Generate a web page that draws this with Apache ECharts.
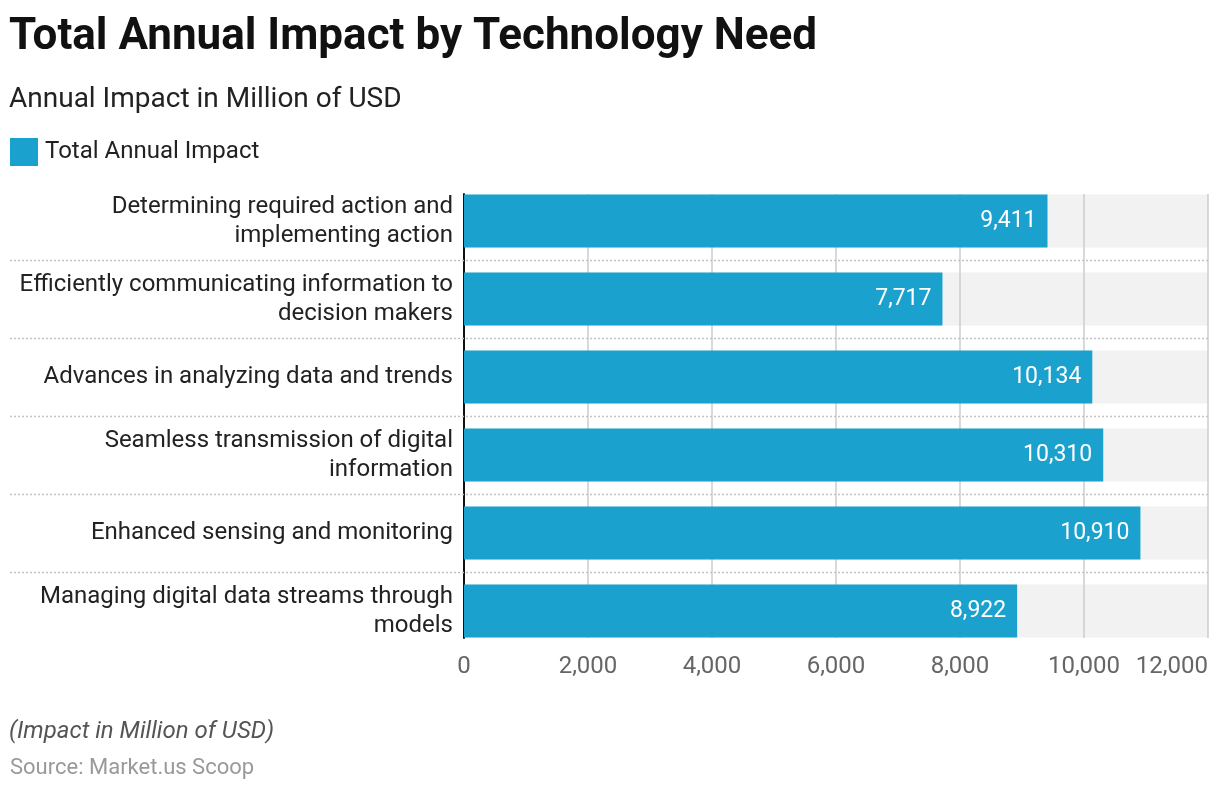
<!DOCTYPE html>
<html>
<head>
<meta charset="utf-8">
<script src="https://cdn.jsdelivr.net/npm/echarts@6/dist/echarts.min.js"></script>
<style>
html,body{margin:0;padding:0;background:#fff;}
#chart{width:1220px;height:792px;}
</style>
</head>
<body>
<div id="chart"></div>
<script>
const categories = [
  "Determining required action and\nimplementing action",
  "Efficiently communicating information to\ndecision makers",
  "Advances in analyzing data and trends",
  "Seamless transmission of digital\ninformation",
  "Enhanced sensing and monitoring",
  "Managing digital data streams through\nmodels"
];
const values = [9411, 7717, 10134, 10310, 10910, 8922];
const seriesName = "Total Annual Impact";
const xMin = 0, xMax = 12000, xInterval = 2000;

const FONT = "Roboto, 'Noto Sans', sans-serif";
const chart = echarts.init(document.getElementById('chart'), null, {renderer: 'canvas'});

const fmt = v => Number(v).toLocaleString('en-US');

chart.setOption({
  backgroundColor: '#ffffff',
  animation: false,
  textStyle: {fontFamily: FONT},
  title: [
    {text: 'Total Annual Impact by Technology Need', left: 9, top: 16, padding: 0,
     textStyle: {fontFamily: FONT, fontSize: 44, fontWeight: 'bold', color: '#111'}},
    {text: 'Annual Impact in Million of USD', left: 9, top: 86, padding: 0,
     textStyle: {fontFamily: FONT, fontSize: 28, fontWeight: 'normal', color: '#222'}},
    {text: '(Impact in Million of USD)', left: 9, top: 720, padding: 0,
     textStyle: {fontFamily: FONT, fontSize: 24, fontStyle: 'italic', fontWeight: 'normal', color: '#555'}},
    {text: 'Source: Market.us Scoop', left: 10, top: 757, padding: 0,
     textStyle: {fontFamily: FONT, fontSize: 22, fontWeight: 'normal', color: '#999'}}
  ],
  legend: {
    data: [seriesName], left: 10, top: 138, padding: 0, icon: 'rect',
    itemWidth: 28, itemHeight: 28, itemGap: 10,
    textStyle: {fontFamily: FONT, fontSize: 24, color: '#222', padding: [2, 0, 0, 2]}
  },
  grid: [
    {left: 464, right: 12, top: 182, bottom: 142, containLabel: false},
    {left: 464, right: 12, top: 194, bottom: 154, containLabel: false}
  ],
  xAxis: [
    {gridIndex: 0, type: 'value', min: xMin, max: xMax, interval: xInterval, show: false},
    {gridIndex: 1, type: 'value', min: xMin, max: xMax, interval: xInterval,
     axisLine: {show: false}, axisTick: {show: false},
     splitLine: {show: true, lineStyle: {color: '#cccccc', width: 1.5}},
     axisLabel: {fontFamily: FONT, fontSize: 24, color: '#666', margin: 17,
                 formatter: v => fmt(v), alignMaxLabel: 'right'}}
  ],
  yAxis: [
    {gridIndex: 0, type: 'category', data: categories, inverse: true,
     axisLine: {show: false}, axisTick: {show: false}, splitLine: {show: false},
     axisLabel: {fontFamily: FONT, fontSize: 24, color: '#222', margin: 11,
                 align: 'right', lineHeight: 29, padding: [4, 0, 0, 0]}},
    {gridIndex: 1, type: 'value', min: 0, max: 1,
     axisLine: {show: true, lineStyle: {color: '#111', width: 2}},
     axisTick: {show: false}, axisLabel: {show: false}, splitLine: {show: false}}
  ],
  series: [
    {
      name: 'bg', type: 'bar', xAxisIndex: 0, yAxisIndex: 0,
      data: categories.map(() => xMax), barWidth: 53, barGap: '-100%',
      itemStyle: {color: '#f2f2f2'}, z: -1, silent: true, legendHoverLink: false
    },
    {
      name: seriesName, type: 'bar', xAxisIndex: 0, yAxisIndex: 0,
      data: values, barWidth: 53, z: 3,
      itemStyle: {color: '#1BA1CE'},
      label: {show: true, position: 'insideRight', distance: 11,
              fontFamily: FONT, fontSize: 23, color: '#fff',
              formatter: p => fmt(p.value)}
    },
    {
      name: 'sep', type: 'custom', xAxisIndex: 0, yAxisIndex: 0, silent: true, z: 1,
      data: categories.slice(1).map((c, i) => [0, i]),
      encode: {x: 0, y: 1},
      renderItem: function (params, api) {
        const i = api.value(1);
        const a = api.coord([0, i]);
        const b = api.coord([0, i + 1]);
        const y = Math.round((a[1] + b[1]) / 2) + 0.5;
        const cs = params.coordSys;
        return {type: 'line', silent: true,
                shape: {x1: 10, y1: y, x2: cs.x + cs.width, y2: y},
                style: {stroke: '#c4c4c4', lineWidth: 1.5, lineDash: [2, 2]}};
      }
    }
  ]
});
</script>
</body>
</html>
